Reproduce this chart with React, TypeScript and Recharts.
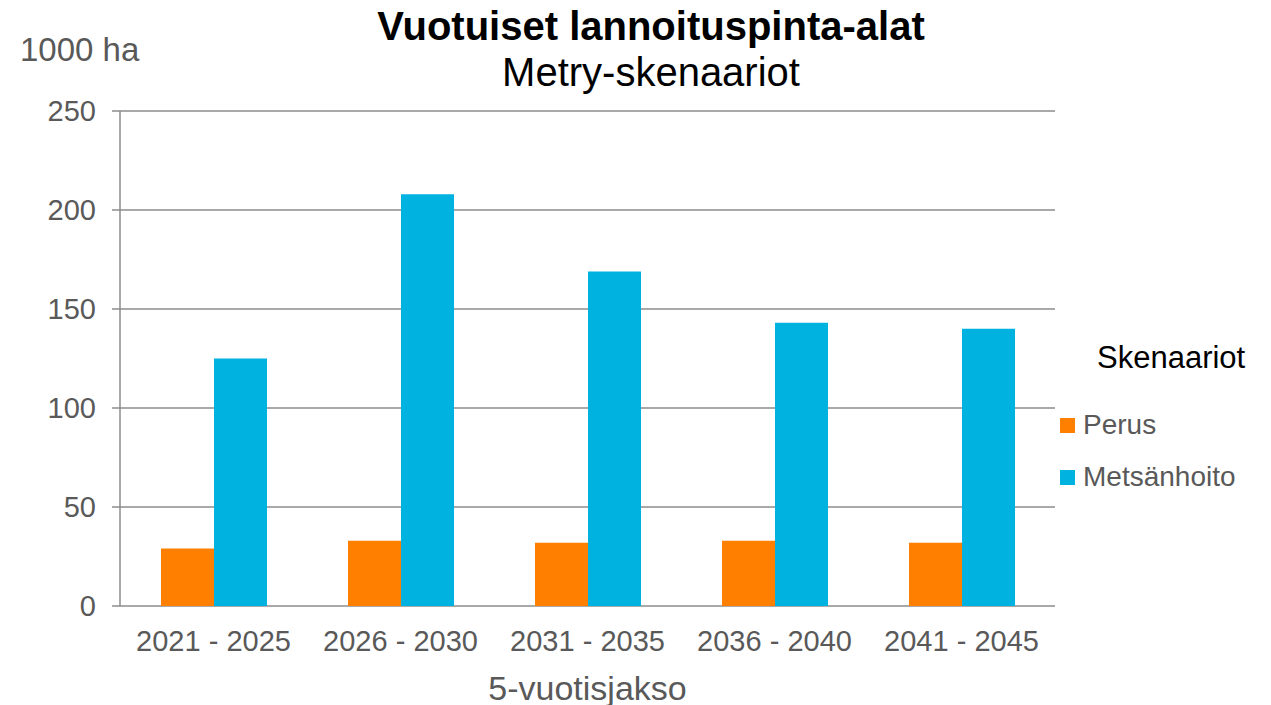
import React from 'react';
import { BarChart, Bar, XAxis, YAxis, CartesianGrid, Legend } from 'recharts';

const periods = ['2021 - 2025', '2026 - 2030', '2031 - 2035', '2036 - 2040', '2041 - 2045'];
const perus = [29, 33, 32, 33, 32];
const metsanhoito = [125, 208, 169, 143, 140];
const seriesNames = ['Perus', 'Metsänhoito'];
const yTicks = [0, 50, 100, 150, 200, 250];
const boundaryTicks = [0, 1, 2, 3, 4, 5];

const ORANGE = '#FF8000';
const BLUE = '#00B2E0';
const FONT = '"Liberation Sans", Arial, sans-serif';

const data = periods.map((p, i) => ({ period: p, idx: i + 0.5, Perus: perus[i], Metsänhoito: metsanhoito[i] }));

function LegendBox(props: any) {
  const items = [...(props.payload || [])].sort(
    (a: any, b: any) => seriesNames.indexOf(a.value) - seriesNames.indexOf(b.value),
  );
  return (
    <div style={{ fontFamily: FONT, color: '#595959' }}>
      <div style={{ fontSize: 31, color: '#000', lineHeight: '31px', marginLeft: 37, marginBottom: 26 }}>Skenaariot</div>
      {items.map((it: any) => (
        <div key={it.value} style={{ display: 'flex', alignItems: 'center', height: 52, fontSize: 28 }}>
          <span style={{ width: 15, height: 15, background: it.color, display: 'inline-block', marginRight: 8 }} />
          <span>{it.value}</span>
        </div>
      ))}
    </div>
  );
}

export default function App() {
  return (
    <div style={{ position: 'absolute', left: 0, top: 0, width: 1271, height: 705, background: '#fff', fontFamily: FONT }}>
      <div style={{ position: 'absolute', left: 0, width: 1302, top: 6, textAlign: 'center', fontSize: 40, fontWeight: 'bold', lineHeight: '40px', color: '#000' }}>
        Vuotuiset lannoituspinta-alat
      </div>
      <div style={{ position: 'absolute', left: 0, width: 1302, top: 52, textAlign: 'center', fontSize: 40, lineHeight: '40px', color: '#000' }}>
        Metry-skenaariot
      </div>
      <div style={{ position: 'absolute', left: 20, top: 33, fontSize: 33, lineHeight: '33px', color: '#595959' }}>1000 ha</div>
      <div style={{ position: 'absolute', left: 120, width: 935, top: 671, textAlign: 'center', fontSize: 34, lineHeight: '34px', color: '#595959' }}>
        5-vuotisjakso
      </div>
      <BarChart width={1271} height={705} data={data} margin={{ top: 111, right: 216, left: 20, bottom: 0 }} barGap={0} barSize={53}>
        <CartesianGrid vertical={false} stroke="#8c8c8c" strokeWidth={1.5} />
        <XAxis xAxisId="grid" type="number" dataKey="idx" domain={[0, 5]} ticks={boundaryTicks} tick={() => <g />}
          height={0} tickSize={8} stroke="#8c8c8c" strokeWidth={1.5} />
        <XAxis xAxisId="cat" dataKey="period" axisLine={false} tickLine={false} tickSize={0} tickMargin={24} height={99}
          tick={{ fill: '#595959', fontSize: 29, fontFamily: FONT }} interval={0} />
        <YAxis domain={[0, 250]} ticks={yTicks} width={100} tickSize={8} tickMargin={16} stroke="#8c8c8c" strokeWidth={1.5}
          tick={{ fill: '#595959', fontSize: 29, fontFamily: FONT }} />
        <Legend align="center" verticalAlign="middle" content={<LegendBox />}
          wrapperStyle={{ left: 1060, top: 342, width: 211 }} />
        <Bar xAxisId="cat" dataKey="Perus" fill={ORANGE} isAnimationActive={false} />
        <Bar xAxisId="cat" dataKey="Metsänhoito" fill={BLUE} isAnimationActive={false} />
      </BarChart>
    </div>
  );
}
